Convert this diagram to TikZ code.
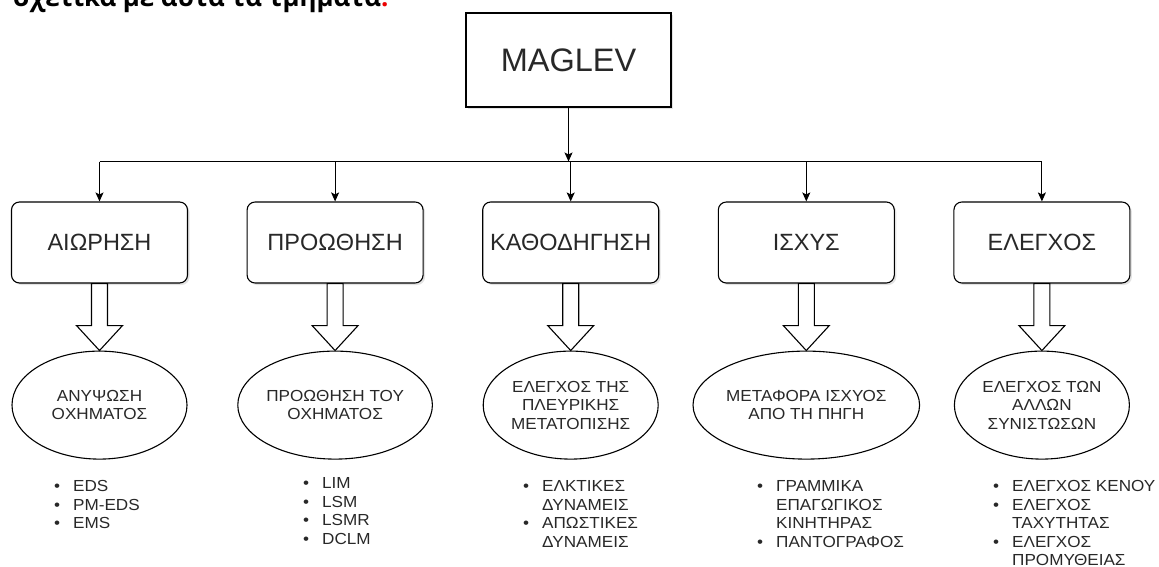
\documentclass[tikz,border=0pt]{standalone}
\usepackage{fontspec}
\setmainfont{Liberation Sans}
\newfontfamily\narrowfont{Liberation Sans}[FakeStretch=1.07]
\newfontfamily\headfont{Open Sans}
\usetikzlibrary{positioning,arrows.meta,shapes.geometric,shadows,calc}
\definecolor{colortext}  {RGB}{ 40, 40, 40}
\definecolor{colorshadow}{RGB}{200,200,200}
\definecolor{colormark}  {RGB}{235,  0,  0}
\newcommand{\blt}{\llap{\textbullet\hspace{13pt}}}
\newcommand{\hollowarrow}[2]{%
  \draw[hollow] ($(#1.south)+(-8,0)$) -- ($(#1.south)+(8,0)$) -- ($(#2.north)+(8,-25)$)
    -- ($(#2.north)+(23,-25)$) -- (#2.north) -- ($(#2.north)+(-23,-25)$)
    -- ($(#2.north)+(-8,-25)$) -- cycle;}

\begin{document}
\begin{tikzpicture}[
    x=1pt, y=-1pt,
    node distance = 58.5pt,
    base/.style={text=colortext,inner sep=0pt,align=center,draw=black,line width=1.1pt,fill=white,
                 drop shadow={shadow xshift=2pt,shadow yshift=-2pt,fill=colorshadow}},
    title/.style={base,rectangle,minimum width=205pt,minimum height=94pt,font={\fontsize{32.5}{38}\selectfont}},
    part/.style={base,rounded corners=8pt,minimum width=176pt,minimum height=81pt,font={\fontsize{23.5}{28}\selectfont}},
    goal/.style={text=colortext,draw=black,line width=1.1pt,ellipse,inner sep=0pt,minimum width=175pt,
                 minimum height=108pt,align=center,font={\narrowfont\fontsize{16}{18.5}\selectfont}},
    items/.style={text=colortext,inner sep=0pt,align=left,anchor=north west,font={\narrowfont\fontsize{16}{18.5}\selectfont}},
    conn/.style={line width=1.1pt,-{Stealth[length=9pt,width=8pt,inset=2pt]}},
    hollow/.style={line width=1.1pt,fill=white,line join=miter},
]
    \useasboundingbox (0,0) rectangle (1159,567);

    % text above the figure, cut by the page edge
    \node[anchor=base west,inner sep=0pt,font={\headfont\bfseries\fontsize{25.8}{30}\selectfont}] (caption) at (13,6.5)
        {σχετικά με αυτά τα τμήματα\textcolor{colormark}{.}};

    \node[title] (maglev) at (568.5,60) {MAGLEV};

    \node[part] (part1) at (99.5,242.5) {ΑΙΩΡΗΣΗ};
    \node[part,right=of part1] (part2) {ΠΡΟΩΘΗΣΗ};
    \node[part,right=of part2] (part3) {ΚΑΘΟΔΗΓΗΣΗ};
    \node[part,right=of part3] (part4) {ΙΣΧΥΣ};
    \node[part,right=of part4] (part5) {ΕΛΕΓΧΟΣ};

    \coordinate (bus) at (568.5,161.5);
    \draw[conn] (maglev) -- (bus);
    \draw[line width=1.1pt] (part1.north |- bus) -- (part5.north |- bus);
    \foreach \i in {1,...,5}
        \draw[conn] (part\i.north |- bus) -- (part\i.north);

    \node[goal,below=67pt of part1] (goal1) {ΑΝΥΨΩΣΗ\\ΟΧΗΜΑΤΟΣ};
    \node[goal,below=67pt of part2] (goal2) {ΠΡΟΩΘΗΣΗ ΤΟΥ\\ΟΧΗΜΑΤΟΣ};
    \node[goal,below=67pt of part3] (goal3) {ΕΛΕΓΧΟΣ ΤΗΣ\\ΠΛΕΥΡΙΚΗΣ\\ΜΕΤΑΤΟΠΙΣΗΣ};
    \node[goal,below=67pt of part4] (goal4) {ΜΕΤΑΦΟΡΑ ΙΣΧΥΟΣ\\ΑΠΟ ΤΗ ΠΗΓΗ};
    \node[goal,below=67pt of part5] (goal5) {ΕΛΕΓΧΟΣ ΤΩΝ\\ΑΛΛΩΝ\\ΣΥΝΙΣΤΩΣΩΝ};

    \foreach \i in {1,...,5}
        \hollowarrow{part\i}{goal\i};

    \node[items] (list1) at (73,480.5)  {\blt EDS\\\blt PM-EDS\\\blt EMS};
    \node[items] (list2) at (322,477.5) {\blt LIM\\\blt LSM\\\blt LSMR\\\blt DCLM};
    \node[items] (list3) at (542,480.5) {\blt ΕΛΚΤΙΚΕΣ\\ΔΥΝΑΜΕΙΣ\\\blt ΑΠΩΣΤΙΚΕΣ\\ΔΥΝΑΜΕΙΣ};
    \node[items] (list4) at (776,480.5) {\blt ΓΡΑΜΜΙΚΑ\\ΕΠΑΓΩΓΙΚΟΣ\\ΚΙΝΗΤΗΡΑΣ\\\blt ΠΑΝΤΟΓΡΑΦΟΣ};
    \node[items] (list5) at (1012,480.5) {\blt ΕΛΕΓΧΟΣ ΚΕΝΟΥ\\\blt ΕΛΕΓΧΟΣ\\ΤΑΧΥΤΗΤΑΣ\\\blt ΕΛΕΓΧΟΣ\\ΠΡΟΜΥΘΕΙΑΣ};
\end{tikzpicture}
\end{document}
